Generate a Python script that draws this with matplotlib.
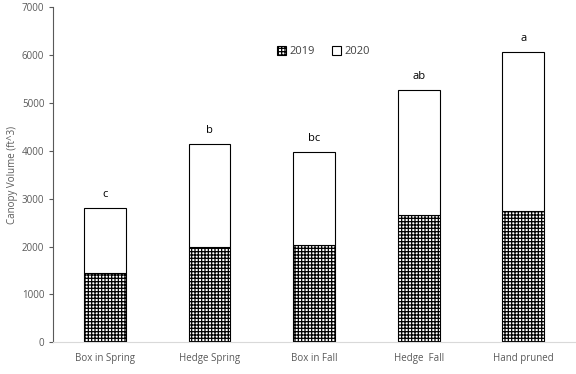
import matplotlib.pyplot as plt
import numpy as np

plt.rcParams['font.family'] = ['Open Sans', 'DejaVu Sans']
plt.rcParams['hatch.linewidth'] = 0.9

categories = ['Box in Spring', 'Hedge Spring', 'Box in Fall', 'Hedge  Fall', 'Hand pruned']
vol2019 = [1450, 2000, 2030, 2650, 2745]
vol2020 = [1360, 2150, 1940, 2620, 3320]
letters = ['c', 'b', 'bc', 'ab', 'a']

gris = '#595959'

fig = plt.figure(figsize=(5.76, 3.74), dpi=100)
ax = fig.add_axes([0.0915, 0.0848, 0.9075, 0.8957])

x = np.arange(len(categories))
ax.bar(x, vol2019, width=0.4, color='white', edgecolor='black', hatch='+++++',
       linewidth=0.8, label='2019')
ax.bar(x, vol2020, width=0.4, bottom=vol2019, color='white', edgecolor='black',
       linewidth=0.8, label='2020')

tot = np.array(vol2019) + np.array(vol2020)
for xi, t, let in zip(x, tot, letters):
    ax.text(xi, t + 170, let, ha='center', va='bottom', fontsize=8, color='black')

ax.set_xlim(-0.5, 4.5)
ax.set_ylim(0, 7000)
ax.set_yticks(range(0, 7001, 1000))
ax.set_xticks(x)
ax.set_xticklabels(categories)
ax.tick_params(axis='x', length=0, pad=8, labelsize=7, labelcolor=gris)
ax.tick_params(axis='y', length=3, width=0.8, color=gris, labelsize=7, labelcolor=gris, pad=3)

for s in ['top', 'right']:
    ax.spines[s].set_visible(False)
ax.spines['left'].set_color(gris)
ax.spines['left'].set_linewidth(0.8)
ax.spines['bottom'].set_color('#d9d9d9')
ax.spines['bottom'].set_linewidth(0.8)

ax.set_ylabel('Canopy Volume (ft^3)', fontsize=7, color=gris, labelpad=3)

leg = ax.legend(loc='center', bbox_to_anchor=(0.518, 0.867), ncol=2, frameon=False,
                fontsize=8, handlelength=0.8, handleheight=0.8, handletextpad=0.3,
                columnspacing=1.5)
for t in leg.get_texts():
    t.set_color('#404040')

fig.savefig('out.png', dpi=100)
